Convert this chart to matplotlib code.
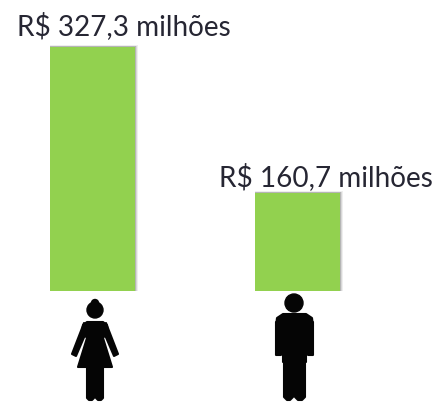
import matplotlib
matplotlib.use("Agg")
import matplotlib.pyplot as plt
from matplotlib.patches import Polygon, Circle

categories = ["Mulheres", "Homens"]
values = [327.3, 160.7]
bar_heights = [327.3, 131.5]
labels = ["R$ 327,3 milhões", "R$ 160,7 milhões"]
bar_color = "#92d14f"
text_color = "#262633"

fig = plt.figure(figsize=(4.36, 4.03), dpi=100)
ax = fig.add_axes([0, 0, 1, 1])
ax.axis("off")
ax.set_xlim(0, 436)
# baseline at y=291 px, top of first bar at 47 px
scale = 327.3 / 244
ax.set_ylim(-(403 - 291) * scale, 291 * scale)

xs = [92.5, 297]
width = 85
# soft shadow, mostly on the right side and the top
for grow, alpha in [(3.0, 0.10), (2.0, 0.16), (1.0, 0.28)]:
    ax.bar([x + grow * 0.6 for x in xs], [h + grow * 0.7 * scale for h in bar_heights],
           width=width + grow, color="#606060", alpha=alpha, zorder=1)
ax.bar(xs, bar_heights, width=width, color=bar_color, zorder=2)

ax.text(124, bar_heights[0] + 21 * scale, labels[0], ha="center", va="center", fontsize=20.1,
        family="Lato", color=text_color)
ax.text(326, bar_heights[1] + 16 * scale, labels[1], ha="center", va="center", fontsize=20.1,
        family="Lato", color=text_color)

# icons in plain pixel coordinates
icons = fig.add_axes([0, 0, 1, 1])
icons.axis("off")
icons.patch.set_alpha(0)
icons.set_xlim(0, 436)
icons.set_ylim(403, 0)


def shape(points):
    icons.add_patch(Polygon(points, closed=True, facecolor="#050505", edgecolor="#050505",
                            linewidth=1.5, joinstyle="round"))


# woman
icons.add_patch(Circle((95, 310), 8, color="#050505"))
icons.add_patch(Circle((95, 303), 3.5, color="#050505"))
shape([(87, 322), (103, 322), (107, 325), (108, 332), (103, 338), (112, 367), (78, 367),
       (87, 338), (82, 332), (83, 325)])
shape([(84, 323), (88, 328), (76, 356), (72, 354)])
shape([(106, 323), (102, 328), (114, 356), (118, 354)])
shape([(87, 366), (94, 366), (94, 398), (92, 400), (89, 400), (87, 398)])
shape([(96, 366), (103, 366), (103, 398), (101, 400), (98, 400), (96, 398)])

# man
icons.add_patch(Circle((294, 303), 9, color="#050505"))
shape([(283, 314), (306, 314), (312, 318), (313, 326), (306, 330), (306, 362), (283, 362),
       (283, 330), (276, 326), (277, 318)])
shape([(276, 322), (281, 322), (281, 355), (276, 355)])
shape([(308, 322), (313, 322), (313, 355), (308, 355)])
shape([(284, 360), (293, 360), (293, 397), (290, 400), (287, 400), (284, 397)])
shape([(295, 360), (305, 360), (305, 397), (302, 400), (298, 400), (295, 397)])

fig.savefig("out.png", dpi=100)
